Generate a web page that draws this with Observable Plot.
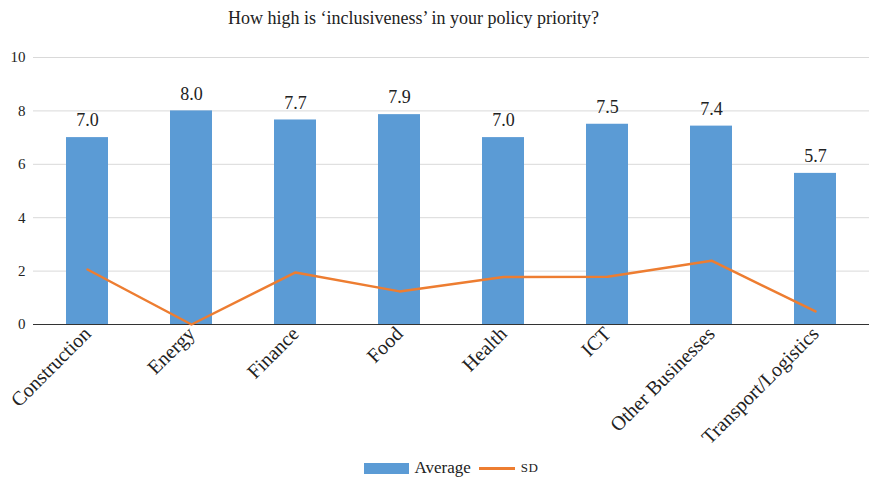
<!DOCTYPE html>
<html>
<head>
<meta charset="utf-8">
<script src="https://cdn.jsdelivr.net/npm/d3@7"></script>
<script src="https://cdn.jsdelivr.net/npm/@observablehq/plot@0.6"></script>
<style>
  body { margin: 0; background: #fff; font-family: "Liberation Serif", serif; }
  #title { height: 36px; line-height: 36px; text-align: center; padding-right: 42px; font-size: 18px; color: #222; font-family: "Liberation Serif", serif; }
  #legend { display: flex; justify-content: center; align-items: center; padding-left: 33px; font-size: 17px; color: #222; margin-top: 4px; font-family: "Liberation Serif", serif; }
  .sw { display: inline-block; }
  #chart svg, #chart svg text { font-family: "Liberation Serif", serif; }
</style>
</head>
<body>
<div id="title">How high is ‘inclusiveness’ in your policy priority?</div>
<div id="chart"></div>
<div id="legend">
  <span class="sw" style="width:45px;height:11px;background:#5b9bd5;margin-right:6px"></span><span>Average</span>
  <span class="sw" style="width:36px;height:3px;background:#ed7d31;margin:0 6px 0 8px"></span><span style="font-size:13px;letter-spacing:0.5px">SD</span>
</div>
<script>
const categories = ["Construction", "Energy", "Finance", "Food", "Health", "ICT", "Other Businesses", "Transport/Logistics"];
const averages = [7.0, 8.0, 7.66, 7.86, 7.0, 7.5, 7.43, 5.66];
const sds = [2.06, 0.0, 1.95, 1.24, 1.78, 1.79, 2.39, 0.49];
const yTicks = [0, 2, 4, 6, 8, 10];

const data = categories.map((c, i) => ({cat: c, avg: averages[i], sd: sds[i]}));

const chart = Plot.plot({
  width: 869,
  height: 418,
  marginTop: 21,
  marginLeft: 33,
  marginRight: 0,
  marginBottom: 130,
  style: { fontFamily: "Liberation Serif, serif", color: "#222", background: "#fff" },
  x: { domain: categories, paddingInner: 0.6, paddingOuter: 0.3, label: null },
  y: { domain: [0, 10], label: null },
  marks: [
    Plot.gridY(yTicks, { stroke: "#d9d9d9", strokeOpacity: 1, strokeWidth: 1 }),
    Plot.axisY(yTicks, { tickSize: 0, tickPadding: 8, fontSize: 15, label: null }),
    Plot.axisX({ tickSize: 0, tickPadding: 6, tickRotate: -45, fontSize: 20, label: null }),
    Plot.barY(data, { x: "cat", y: "avg", fill: "#5b9bd5" }),
    Plot.ruleY([0], { stroke: "#333", strokeWidth: 1.2 }),
    Plot.lineY(data, { x: "cat", y: "sd", stroke: "#ed7d31", strokeWidth: 2.5 }),
    Plot.text(data, { x: "cat", y: "avg", text: d => d.avg.toFixed(1), dy: -17, fontSize: 18, fill: "#222" })
  ]
});
document.getElementById("chart").appendChild(chart);
</script>
</body>
</html>
